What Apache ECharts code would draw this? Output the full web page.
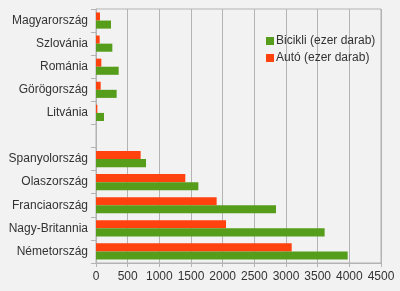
<!DOCTYPE html>
<html><head><meta charset="utf-8">
<script src="https://cdn.jsdelivr.net/npm/echarts@6/dist/echarts.min.js"></script>
<style>html,body{margin:0;padding:0;background:#f2f2f2}#c{width:400px;height:291px}</style>
</head><body><div id="c"></div>
<script>
// categories bottom to top
const categories = ['Németország','Nagy-Britannia','Franciaország','Olaszország','Spanyolország','','Litvánia','Görögország','Románia','Szlovánia','Magyarország'];
const bicikli = [3974, 3610, 2842, 1616, 790, null, 126, 326, 358, 258, 237];
const auto = [3090, 2053, 1905, 1410, 705, null, 21, 74, 84, 58, 63];
const xTicks = {min: 0, max: 4500, interval: 500};

const chart = echarts.init(document.getElementById('c'));
chart.setOption({
  backgroundColor: '#f2f2f2',
  animation: false,
  textStyle: {fontFamily: 'Liberation Sans, Arial, sans-serif'},
  grid: {left: 96, right: 19, top: 9, bottom: 28, show: true, borderColor: '#b3b3b3', borderWidth: 1},
  legend: {
    orient: 'vertical', left: 261, top: 30, itemWidth: 8, itemHeight: 8, itemGap: 5,
    icon: 'rect',
    textStyle: {fontSize: 12, color: '#333', padding: [0,0,0,-3]},
    data: ['Bicikli (ezer darab)', 'Autó (ezer darab)']
  },
  xAxis: {
    type: 'value', min: xTicks.min, max: xTicks.max, interval: xTicks.interval,
    axisLine: {show: true, lineStyle: {color: '#b3b3b3'}},
    axisTick: {show: true, length: 4, lineStyle: {color: '#b3b3b3'}},
    axisLabel: {color: '#333', fontSize: 12, margin: 8, formatter: v => String(v)},
    splitLine: {show: true, lineStyle: {color: '#b3b3b3'}}
  },
  yAxis: {
    type: 'category', data: categories,
    axisLine: {show: true, lineStyle: {color: '#b3b3b3'}},
    axisTick: {show: true, length: 5, lineStyle: {color: '#b3b3b3'}},
    axisLabel: {color: '#333', fontSize: 12, margin: 8},
    splitLine: {show: false}
  },
  series: [
    {name: 'Autó (ezer darab)', type: 'bar', data: auto, itemStyle: {color: '#ff420e'}, barGap: '0%', barCategoryGap: '30%'},
    {name: 'Bicikli (ezer darab)', type: 'bar', data: bicikli, itemStyle: {color: '#579d1c'}, barGap: '0%', barCategoryGap: '30%'}
  ]
});
</script></body></html>
